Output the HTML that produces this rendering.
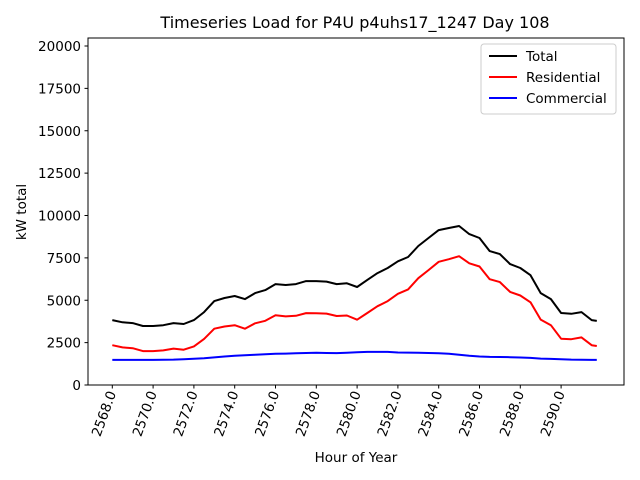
<!DOCTYPE html>
<html><head><meta charset="utf-8"><style>
body{margin:0;background:#fff}
svg{display:block;font-family:"DejaVu Sans","Liberation Sans",sans-serif}
</style></head><body>
<svg id="chart" width="640" height="480" xmlns="http://www.w3.org/2000/svg">
<rect x="0" y="0" width="640" height="480" fill="#fff"/>
<text x="355" y="28" text-anchor="middle" font-size="16" fill="#000">Timeseries Load for P4U p4uhs17_1247  Day 108</text>
<g id="yticks"></g>
<g id="xticks"></g>
<g id="series"></g>
<rect x="88" y="38" width="536" height="347" fill="none" stroke="#000" stroke-width="1"/>
<text x="356" y="462" text-anchor="middle" font-size="13.5">Hour of Year</text>
<text transform="translate(26,212) rotate(-90)" text-anchor="middle" font-size="13.5">kW total</text>
<g>
<rect x="481" y="44" width="135" height="70" fill="#fff" stroke="#ccc" rx="3"/>
<line x1="489" y1="56" x2="517" y2="56" stroke="#000" stroke-width="2"/>
<text x="526" y="61" font-size="13.5">Total</text>
<line x1="489" y1="77" x2="517" y2="77" stroke="#f00" stroke-width="2"/>
<text x="526" y="82" font-size="13.5">Residential</text>
<line x1="489" y1="98" x2="517" y2="98" stroke="#00f" stroke-width="2"/>
<text x="526" y="103" font-size="13.5">Commercial</text>
</g>
</svg>
<script>
const hours=[2568,2568.5,2569,2569.5,2570,2570.5,2571,2571.5,2572,2572.5,2573,2573.5,2574,2574.5,2575,2575.5,2576,2576.5,2577,2577.5,2578,2578.5,2579,2579.5,2580,2580.5,2581,2581.5,2582,2582.5,2583,2583.5,2584,2584.5,2585,2585.5,2586,2586.5,2587,2587.5,2588,2588.5,2589,2589.5,2590,2590.5,2591,2591.5,2591.75];
const total=[3830,3700,3650,3480,3480,3530,3650,3600,3830,4300,4950,5130,5250,5070,5420,5600,5950,5900,5950,6130,6130,6100,5950,6000,5780,6200,6600,6900,7300,7550,8200,8670,9140,9260,9380,8900,8670,7900,7720,7130,6900,6480,5420,5070,4250,4200,4300,3830,3780];
const residential=[2350,2220,2170,2000,2000,2040,2150,2080,2280,2720,3320,3450,3530,3320,3640,3790,4110,4050,4080,4240,4230,4210,4070,4100,3850,4250,4650,4950,5380,5640,6300,6780,7270,7420,7600,7180,6990,6240,6070,5490,5280,4880,3860,3530,2730,2700,2810,2350,2300];
const commercial=[1480,1480,1480,1480,1480,1490,1500,1520,1550,1580,1630,1680,1720,1750,1780,1810,1840,1850,1870,1890,1900,1890,1880,1900,1930,1950,1950,1950,1920,1910,1900,1890,1870,1840,1780,1720,1680,1660,1650,1640,1620,1600,1560,1540,1520,1500,1490,1480,1480];
const yTickValues=[0,2500,5000,7500,10000,12500,15000,17500,20000];
const xTickValues=[2568,2570,2572,2574,2576,2578,2580,2582,2584,2586,2588,2590];
const NS="http://www.w3.org/2000/svg";
const X=h=>112.3+(h-2568)*20.4;
const Y=v=>385-v*(339/20000);
function mk(tag,attrs,parent){const e=document.createElementNS(NS,tag);for(const k in attrs)e.setAttribute(k,attrs[k]);parent.appendChild(e);return e;}
const yg=document.getElementById('yticks');
yTickValues.forEach(v=>{
  const l=mk('line',{x1:84.5,x2:88,y1:Y(v),y2:Y(v),stroke:'#000'},yg);
  
  
  const t=mk('text',{x:81,y:Y(v)+5,'text-anchor':'end','font-size':'13.5'},yg);
  t.textContent=v;
  
  
});
const xg=document.getElementById('xticks');
xTickValues.forEach(h=>{
  const x=X(h);
  const l=mk('line',{x1:x,x2:x,y1:385,y2:388.5,stroke:'#000'},xg);
  
  
  const t=mk('text',{transform:`translate(${x+4},393) rotate(-70)`,'text-anchor':'end','font-size':'13.5'},xg);
  t.textContent=h.toFixed(1);
  
  
});
const sg=document.getElementById('series');
[[total,'#000','total-line'],[residential,'#f00','residential-line'],[commercial,'#00f','commercial-line']].forEach(([arr,c,n])=>{
  const d=arr.map((v,i)=>(i?'L':'M')+X(hours[i]).toFixed(1)+','+Y(v).toFixed(1)).join('');
  const p=mk('path',{d:d,fill:'none',stroke:c,'stroke-width':2,'stroke-linejoin':'round'},sg);
  
  
});
</script>
</body></html>
